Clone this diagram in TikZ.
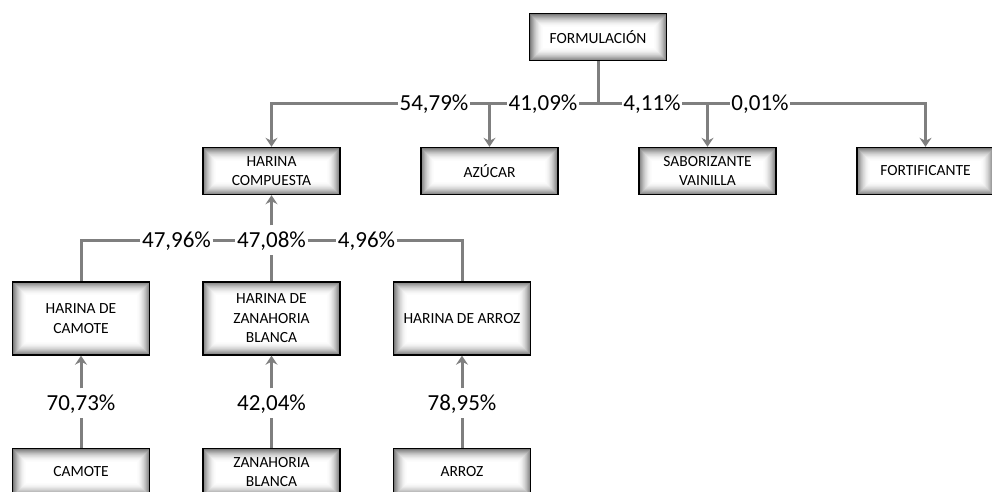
\documentclass[tikz,border=0pt]{standalone}
\usepackage{fontspec}
\setmainfont{Carlito}
\usetikzlibrary{arrows.meta}
\definecolor{linkgray}{RGB}{127,127,127}

\begin{document}
\begin{tikzpicture}[x=1pt, y=1pt, node distance=218pt,
  box node/.style={draw=black, line width=1.4pt, minimum width=137pt, minimum height=47pt,
    align=center, inner sep=2pt, font=\fontsize{15.5}{19.5}\selectfont,
    path picture={\foreach \k [evaluate=\k as \p using int(52*(1-\k/14)^2)] in {0,...,14}
      \fill[black!\p] ([shift={(\k pt,-\k pt)}]path picture bounding box.north west)
        rectangle ([shift={(-\k pt,\k pt)}]path picture bounding box.south east);}},
  tall node/.style={box node, minimum height=73pt},
  pct node/.style={inner xsep=1.5pt, inner ysep=7pt, text height=15pt, text depth=0pt,
    font=\fontsize{23}{23}\selectfont},
  link/.style={draw=linkgray, line width=3pt},
  arrow/.style={link, -{Stealth[length=9pt,width=12pt,inset=3pt]}}]
  \useasboundingbox[fill=white] (0,0) rectangle (992,-491);

  \node[box node] (form) at (598,-37) {FORMULACIÓN};

  \node[box node] (compuesta) at (271.5,-171) {HARINA\\COMPUESTA};
  \node[box node] (azucar) [right of=compuesta] {AZÚCAR};
  \node[box node] (sabor) [right of=azucar] {SABORIZANTE\\VAINILLA};
  \node[box node] (fortif) [right of=sabor] {FORTIFICANTE};

  \node[tall node] (hzan) [below of=compuesta, node distance=147.5pt] {HARINA DE\\ZANAHORIA\\BLANCA};
  \node[tall node] (hcam) [left of=hzan, node distance=190.5pt] {HARINA DE\\CAMOTE};
  \node[tall node] (harroz) [right of=hzan, node distance=190.5pt] {HARINA DE ARROZ};

  \node[box node] (camote) [below of=hcam, node distance=153.5pt] {CAMOTE};
  \node[box node] (zan) [below of=hzan, node distance=153.5pt] {ZANAHORIA\\BLANCA};
  \node[box node] (arroz) [below of=harroz, node distance=153.5pt] {ARROZ};

  % percentages
  \node[pct node] (p5479) at (434,-103) {54,79\%};
  \node[pct node] (p4109) at (543,-103) {41,09\%};
  \node[pct node] (p411) at (652,-103) {4,11\%};
  \node[pct node] (p001) at (760,-103) {0,01\%};

  \node[pct node] (p4708) [below of=compuesta, node distance=69pt] {47,08\%};
  \node[pct node] (p4796) [left of=p4708, node distance=95pt] {47,96\%};
  \node[pct node] (p496) [right of=p4708, node distance=95pt] {4,96\%};

  \node[pct node] (p7073) [below of=hcam, node distance=84.5pt] {70,73\%};
  \node[pct node] (p4204) [below of=hzan, node distance=84.5pt] {42,04\%};
  \node[pct node] (p7895) [below of=harroz, node distance=84.5pt] {78,95\%};

  \coordinate (split) at (form |- p4109);
  \coordinate (azsplit) at (azucar |- p4109);
  \coordinate (sabsplit) at (sabor |- p411);

  % formulation
  \draw[link] (form) -- (split);
  \draw[arrow] (p5479) -| (compuesta);
  \draw[link] (p5479) -- (p4109);
  \draw[arrow] (azsplit) -- (azucar);
  \draw[link] (p4109) -- (p411);
  \draw[link] (p411) -- (p001);
  \draw[arrow] (sabsplit) -- (sabor);
  \draw[arrow] (p001) -| (fortif);

  % harina compuesta
  \draw[arrow] (p4708) -- (compuesta);
  \draw[link] (hzan) -- (p4708);
  \draw[link] (p4796) -- (p4708);
  \draw[link] (p4708) -- (p496);
  \draw[link] (p4796) -| (hcam);
  \draw[link] (p496) -| (harroz);

  % harinas
  \draw[arrow] (p7073) -- (hcam);
  \draw[link] (camote) -- (p7073);
  \draw[arrow] (p4204) -- (hzan);
  \draw[link] (zan) -- (p4204);
  \draw[arrow] (p7895) -- (harroz);
  \draw[link] (arroz) -- (p7895);
\end{tikzpicture}
\end{document}
